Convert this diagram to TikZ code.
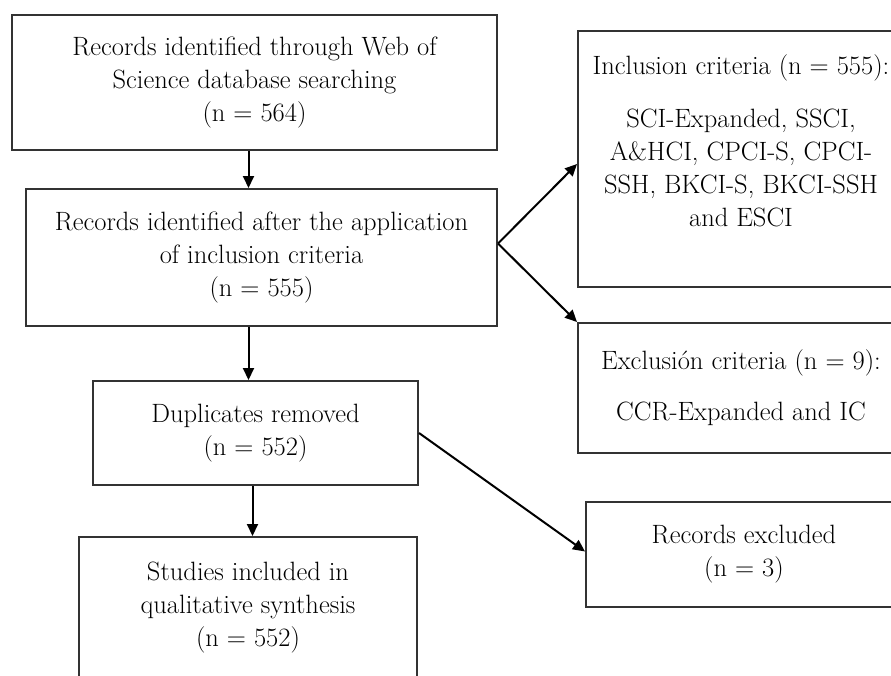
\documentclass[tikz,border=0pt]{standalone}
\usetikzlibrary{arrows.meta}
\tikzset{
	box/.style={draw=black!80,line width=2pt,rectangle,anchor=north west,align=center,inner sep=0pt},
	flow/.style={line width=2pt,-{Triangle[length=12pt,width=11pt]}}
}
\begin{document}
\begin{tikzpicture}[x=1pt,y=-1pt,font=\fontsize{26.5}{33}\selectfont]
		\useasboundingbox (0,0) rectangle (891,675);
		\clip (0,0) rectangle (891,675);
		\node[box,minimum width=485,minimum height=135] (search) at (11,14)
		{Records identified through Web of\\Science database searching\\(n = 564)};
		\node[box,minimum width=471,minimum height=137] (incl) at (25,188)
		{Records identified after the application\\of inclusion criteria\\(n = 555)};
		\node[box,minimum width=325,minimum height=104] (dupl) at (92,380)
		{Duplicates removed\\(n = 552)};
		\node[box,minimum width=338,minimum height=142] (studies) at (78,536)
		{Studies included in\\qualitative synthesis\\(n = 552)};
		\node[box,minimum width=326,minimum height=256] (critin) at (577,30)
		{Inclusion criteria (n = 555):\\[20pt]SCI-Expanded, SSCI,\\A\&HCI, CPCI-S, CPCI-\\SSH, BKCI-S, BKCI-SSH\\and ESCI\\[4pt]\mbox{}};
		\node[box,minimum width=326,minimum height=130] (critex) at (577,322)
		{Exclusión criteria (n = 9):\\[18pt]CCR-Expanded and IC};
		\node[box,minimum width=316,minimum height=105] (excl) at (585,501)
		{Records excluded\\(n = 3)};
		% vertical flow
		\draw[flow] ([xshift=-6pt]search.south) -- ([xshift=-6pt]search.south |- incl.north);
		\draw[flow] ([xshift=-13pt]incl.south) -- ([xshift=-13pt]incl.south |- dupl.north);
		\draw[flow] ([xshift=-3pt]dupl.south) -- ([xshift=-3pt]dupl.south |- studies.north);
		% side branches
		\coordinate (fork) at ([yshift=14pt]incl.east);
		\draw[flow] (fork) -- ([yshift=-5pt]critin.west);
		\draw[flow] (fork) -- (critex.north west);
		\draw[flow] (dupl.east) -- ([yshift=3pt]excl.west);
	\end{tikzpicture}
\end{document}
